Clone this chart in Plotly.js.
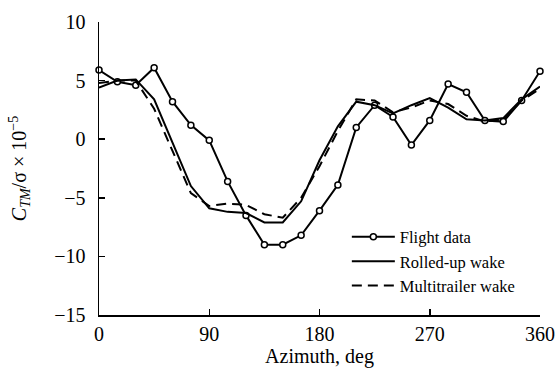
<!DOCTYPE html>
<html>
<head>
<meta charset="utf-8">
<script src="https://cdn.plot.ly/plotly-3.0.1.min.js"></script>
<style>html,body{margin:0;padding:0;background:#fff;font-family:"Liberation Serif",serif;}#chart{width:556px;height:371px;}</style>
</head>
<body>
<div id="chart"></div>
<script>
// Azimuth, deg (every 15 deg)
var azimuth = [0,15,30,45,60,75,90,105,120,135,150,165,180,195,210,225,240,255,270,285,300,315,330,345,360];
// Flight data
var flightData = [5.9,4.9,4.6,6.1,3.2,1.2,-0.1,-3.6,-6.5,-9.0,-9.0,-8.2,-6.1,-3.9,1.0,2.9,1.9,-0.5,1.6,4.7,4.0,1.6,1.5,3.3,5.8];
// Rolled-up wake
var rolledUp = [4.4,5.0,5.1,3.4,-0.3,-4.0,-5.9,-6.2,-6.3,-7.1,-7.1,-5.3,-1.8,1.1,3.2,2.9,2.2,2.9,3.5,2.7,1.7,1.6,1.8,3.4,4.5];
// Multitrailer wake
var multiTrailer = [4.8,5.0,5.0,2.6,-1.0,-4.6,-5.7,-5.5,-5.6,-6.4,-6.7,-5.0,-2.3,0.7,3.4,3.3,2.3,2.7,3.3,3.0,2.0,1.5,1.7,3.3,4.3];

var xTicks = [0,90,180,270,360];
var yTicks = [-15,-10,-5,0,5,10];

var serif = '"Times New Roman", "Liberation Serif", "DejaVu Serif", serif';

var traces = [
  {x: azimuth, y: flightData, name: 'Flight data', type: 'scatter', mode: 'lines+markers',
   line: {color: '#000', width: 2},
   marker: {symbol: 'circle', size: 6, color: '#fff', line: {color: '#000', width: 1.5}},
   cliponaxis: false},
  {x: azimuth, y: rolledUp, name: 'Rolled-up wake', type: 'scatter', mode: 'lines',
   line: {color: '#000', width: 2}, cliponaxis: false},
  {x: azimuth, y: multiTrailer, name: 'Multitrailer wake', type: 'scatter', mode: 'lines',
   line: {color: '#000', width: 2, dash: '10px,6px'}, cliponaxis: false}
];

var layout = {
  width: 556, height: 371,
  margin: {l: 99, r: 16, t: 22, b: 56},
  paper_bgcolor: '#fff', plot_bgcolor: '#fff',
  font: {family: serif, size: 20, color: '#000'},
  showlegend: true,
  legend: {x: 0.562, y: 0.326, xanchor: 'left', yanchor: 'top', bgcolor: 'rgba(0,0,0,0)',
           font: {family: serif, size: 16.5, color: '#000'}, itemwidth: 43, tracegroupgap: 0},
  xaxis: {range: [0, 360], tickvals: xTicks, ticktext: xTicks.map(String),
          showline: true, linecolor: '#000', linewidth: 1.5, mirror: false,
          ticks: 'inside', ticklen: 6, tickwidth: 1.5, tickcolor: '#000',
          showgrid: false, zeroline: false,
          tickfont: {family: serif, size: 20, color: '#000'},
          title: {text: 'Azimuth, deg', font: {family: serif, size: 20, color: '#000'}, standoff: 2}},
  yaxis: {range: [-15, 10], tickvals: yTicks,
          showline: true, linecolor: '#000', linewidth: 1.5, mirror: false,
          ticks: 'inside', ticklen: 6, tickwidth: 1.5, tickcolor: '#000',
          showgrid: false, zeroline: false, ticklabelstandoff: 8,
          tickfont: {family: serif, size: 20, color: '#000'},
          title: {text: '<i>C</i><sub><i>TM</i></sub>/σ × 10<sup>−5</sup>', font: {family: serif, size: 20, color: '#000'}, standoff: 22}}
};

Plotly.newPlot('chart', traces, layout, {displayModeBar: false, staticPlot: true});
</script>
</body>
</html>
